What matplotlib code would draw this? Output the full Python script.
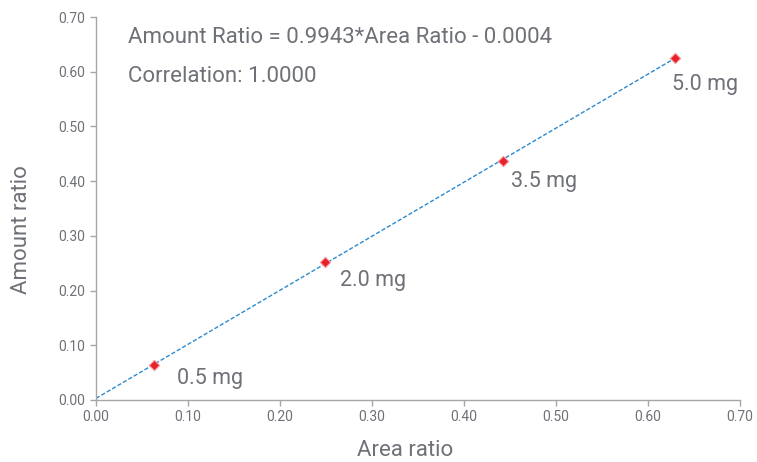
import matplotlib
matplotlib.use("Agg")
import matplotlib.pyplot as plt
import numpy as np

area_ratio = [0.063, 0.249, 0.442, 0.629]
amount_ratio = [0.064, 0.252, 0.437, 0.625]
labels = ["0.5 mg", "2.0 mg", "3.5 mg", "5.0 mg"]
ticks = [0.0, 0.1, 0.2, 0.3, 0.4, 0.5, 0.6, 0.7]
equation = "Amount Ratio = 0.9943*Area Ratio - 0.0004"
correlation = "Correlation: 1.0000"

# label offsets in points (style only)
label_offsets = [(16.5, -9.5), (11, -13), (6, -15), (-2, -19)]

plt.rcParams['font.family'] = ['Roboto', 'DejaVu Sans']
gray = "#6e7177"
axgray = "#a6a6a6"

fig = plt.figure(figsize=(7.57, 4.62), dpi=100)
ax = fig.add_axes([0.1268, 0.1342, 0.9775 - 0.1268, 0.9632 - 0.1342])

slope, intercept = np.polyfit(area_ratio, amount_ratio, 1)
xs = np.array([0.0, max(area_ratio)])
ax.plot(xs, slope * xs + intercept, linestyle=(0, (3, 1.5)), color="#2a8ad0", lw=1.0, zorder=2)
ax.scatter(area_ratio, amount_ratio, marker="D", s=28, color="#e8202a", edgecolor="#f5a0a0", linewidths=0.8, zorder=3)

for (x, y, t), off in zip(zip(area_ratio, amount_ratio, labels), label_offsets):
    ax.annotate(t, (x, y), xytext=off, textcoords="offset points", ha="left", va="center",
                fontsize=15.5, color=gray)

ax.text(0.035, 0.662, equation, fontsize=16, color=gray, va="center")
ax.text(0.035, 0.592, correlation, fontsize=16, color=gray, va="center")

ax.set_xlim(0, 0.7)
ax.set_ylim(0, 0.7)
ax.set_xticks(ticks)
ax.set_yticks(ticks)
ax.set_xticklabels([f"{t:.2f}" for t in ticks])
ax.set_yticklabels([f"{t:.2f}" for t in ticks])
ax.tick_params(colors=axgray, labelcolor=gray, labelsize=10, length=4, width=1)
for s in ["top", "right"]:
    ax.spines[s].set_visible(False)
for s in ["left", "bottom"]:
    ax.spines[s].set_color(axgray)
    ax.spines[s].set_linewidth(1)
ax.set_xlabel("Area ratio", fontsize=16, color=gray, labelpad=11)
ax.set_ylabel("Amount ratio", fontsize=16, color=gray, labelpad=19)
ax.xaxis.label.set_x(0.48)
ax.yaxis.label.set_y(0.444)

fig.savefig("out.png", dpi=100)
